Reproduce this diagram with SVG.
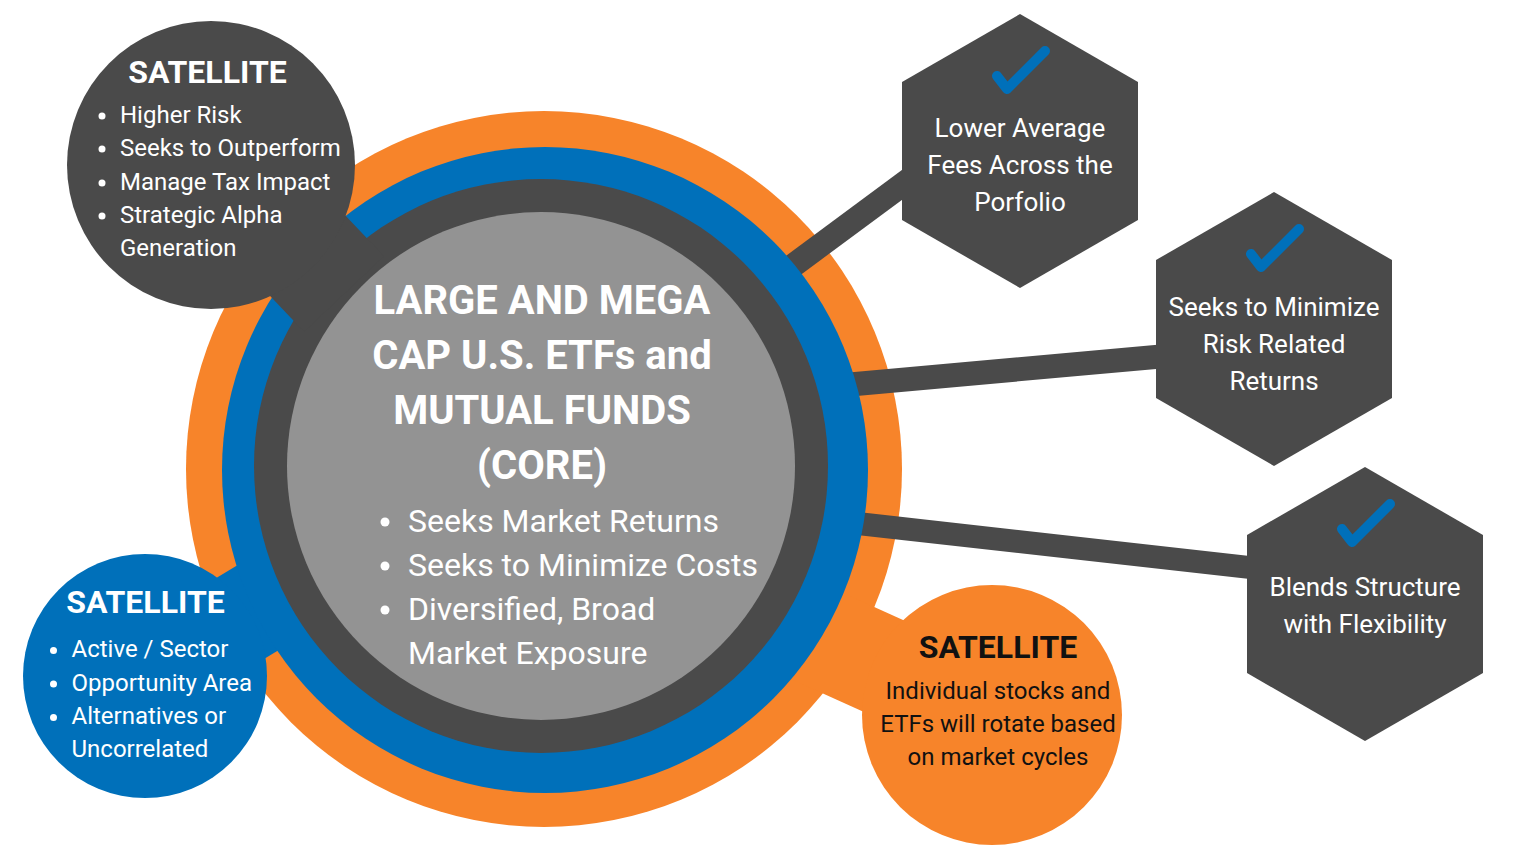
<svg xmlns="http://www.w3.org/2000/svg" xmlns:xlink="http://www.w3.org/1999/xlink" width="1513" height="865" viewBox="0 0 1513 865">
<defs>
<style>
.t{font-family:Roboto,"Liberation Sans",Arial,sans-serif;}
.w{fill:#ffffff;}
.k{fill:#111111;}
.h{font-size:32px;font-weight:700;text-anchor:middle;}
.b24{font-size:24px;}
.b26{font-size:26px;text-anchor:middle;fill:#ffffff;}
.core{font-size:40px;font-weight:700;text-anchor:middle;fill:#ffffff;}
.cb{font-size:32px;fill:#ffffff;}
.hex{fill:#4a4a4a;}
.chk{fill:none;stroke:#0070ba;stroke-width:10;stroke-linecap:round;stroke-linejoin:round;}
.dot{fill:#ffffff;}
</style>
<path id="check" d="M -23,-75 L -13,-62 L 25,-100"/>
<polygon id="hexshape" points="0,-137 118,-69 118,69 0,137 -118,69 -118,-69"/>
</defs>
<rect width="1513" height="865" fill="#ffffff"/>

<g id="core-outer-ring">
<circle cx="544" cy="469" r="358" fill="#f7842a"/>
</g>

<g id="connectors">
<line x1="992" y1="715" x2="764" y2="612" stroke="#f7842a" stroke-width="100"/>
<line x1="145" y1="676" x2="420" y2="510" stroke="#0070ba" stroke-width="94"/>
<line x1="760" y1="290" x2="960" y2="142" stroke="#4a4a4a" stroke-width="24"/>
<line x1="800" y1="389" x2="1200" y2="353" stroke="#4a4a4a" stroke-width="24"/>
<line x1="800" y1="517" x2="1290" y2="572" stroke="#4a4a4a" stroke-width="23"/>
</g>

<g id="core">
<circle cx="545" cy="470" r="323" fill="#0070ba"/>
<circle cx="541" cy="466" r="287" fill="#4a4a4a"/>
<circle cx="541" cy="466" r="254" fill="#939393"/>
<text class="t core" x="542" y="314">LARGE AND MEGA</text>
<text class="t core" x="542" y="369">CAP U.S. ETFs and</text>
<text class="t core" x="542" y="424">MUTUAL FUNDS</text>
<text class="t core" x="542" y="479">(CORE)</text>
<circle class="dot" cx="385" cy="522" r="4.5"/>
<circle class="dot" cx="385" cy="566" r="4.5"/>
<circle class="dot" cx="385" cy="610" r="4.5"/>
<text class="t cb" x="408" y="532">Seeks Market Returns</text>
<text class="t cb" x="408" y="576">Seeks to Minimize Costs</text>
<text class="t cb" x="408" y="620">Diversified, Broad</text>
<text class="t cb" x="408" y="664">Market Exposure</text>
</g>

<g id="satellite-dark">
<line x1="217" y1="160" x2="344" y2="294" stroke="#4a4a4a" stroke-width="110"/>
<circle cx="211" cy="165" r="144" fill="#4a4a4a"/>
<text class="t h w" x="207.5" y="83">SATELLITE</text>
<circle class="dot" cx="102" cy="116" r="3.5"/>
<circle class="dot" cx="102" cy="149" r="3.5"/>
<circle class="dot" cx="102" cy="183" r="3.5"/>
<circle class="dot" cx="102" cy="216" r="3.5"/>
<text class="t b24 w" x="120" y="123">Higher Risk</text>
<text class="t b24 w" x="120" y="156">Seeks to Outperform</text>
<text class="t b24 w" x="120" y="190">Manage Tax Impact</text>
<text class="t b24 w" x="120" y="223">Strategic Alpha</text>
<text class="t b24 w" x="120" y="256">Generation</text>
</g>

<g id="satellite-blue">
<circle cx="145" cy="676" r="122" fill="#0070ba"/>
<text class="t h w" x="145.5" y="613">SATELLITE</text>
<circle class="dot" cx="53.5" cy="650.5" r="3.5"/>
<circle class="dot" cx="53.5" cy="684" r="3.5"/>
<circle class="dot" cx="53.5" cy="717.5" r="3.5"/>
<text class="t b24 w" x="71.5" y="657">Active / Sector</text>
<text class="t b24 w" x="71.5" y="690.5">Opportunity Area</text>
<text class="t b24 w" x="71.5" y="724">Alternatives or</text>
<text class="t b24 w" x="71.5" y="757">Uncorrelated</text>
</g>

<g id="satellite-orange">
<circle cx="992" cy="715" r="130" fill="#f7842a"/>
<text class="t h k" x="998" y="658">SATELLITE</text>
<text class="t b24 k" x="998" y="699" text-anchor="middle">Individual stocks and</text>
<text class="t b24 k" x="998" y="732" text-anchor="middle">ETFs will rotate based</text>
<text class="t b24 k" x="998" y="765" text-anchor="middle">on market cycles</text>
</g>

<g id="hex-fees" transform="translate(1020,151)">
<use xlink:href="#hexshape" class="hex"/>
<use xlink:href="#check" class="chk"/>
<text class="t b26" x="0" y="-14">Lower Average</text>
<text class="t b26" x="0" y="23">Fees Across the</text>
<text class="t b26" x="0" y="60">Porfolio</text>
</g>

<g id="hex-risk" transform="translate(1274,329)">
<use xlink:href="#hexshape" class="hex"/>
<use xlink:href="#check" class="chk"/>
<text class="t b26" x="0" y="-13">Seeks to Minimize</text>
<text class="t b26" x="0" y="24">Risk Related</text>
<text class="t b26" x="0" y="61">Returns</text>
</g>

<g id="hex-blend" transform="translate(1365,604)">
<use xlink:href="#hexshape" class="hex"/>
<use xlink:href="#check" class="chk"/>
<text class="t b26" x="0" y="-8">Blends Structure</text>
<text class="t b26" x="0" y="29">with Flexibility</text>
</g>
</svg>
